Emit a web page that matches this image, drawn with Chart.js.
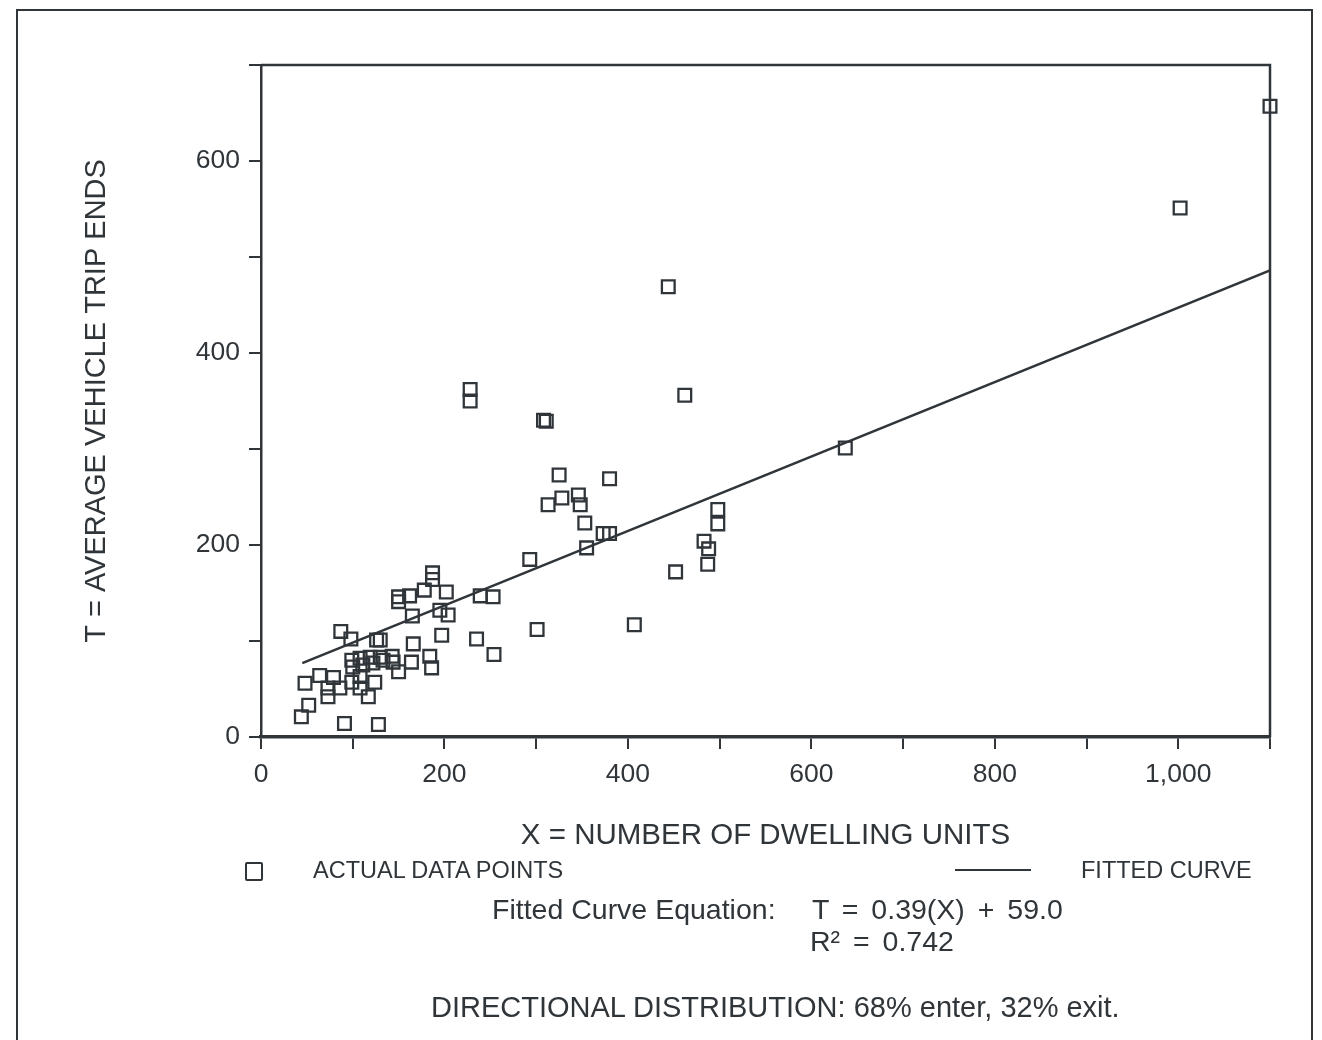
<!DOCTYPE html>
<html>
<head>
<meta charset="utf-8">
<script src="https://cdn.jsdelivr.net/npm/chart.js@4.4.1/dist/chart.umd.min.js"></script>
<style>
  body { margin: 0; background: #fff; font-family: "Liberation Sans", Arial, sans-serif; color: #30353a; }
  #wrap { position: relative; width: 1322px; height: 1040px; overflow: hidden; }
  #frame { position: absolute; left: 16px; top: 9px; width: 1293px; height: 1100px; border: 2px solid #30353a; }
  canvas { position: absolute; left: 0; top: 0; }
  .txt { position: absolute; white-space: pre; line-height: 1; }
</style>
</head>
<body>
<div id="wrap">
  <div id="frame"></div>
  <canvas id="tripChart" width="1322" height="1040"></canvas>
  <div style="position:absolute;left:245px;top:862px;width:14px;height:15px;border:2px solid #30353a;border-radius:2px;"></div>
  <div class="txt" style="left:313px;top:859px;font-size:23.5px;">ACTUAL DATA POINTS</div>
  <div style="position:absolute;left:955px;top:869px;width:76px;height:2px;background:#30353a;"></div>
  <div class="txt" style="left:1081px;top:859px;font-size:23.5px;">FITTED CURVE</div>
  <div class="txt" style="left:492px;top:895px;font-size:28.5px;">Fitted Curve Equation:<span style="position:absolute;left:320px;word-spacing:5px;">T = 0.39(X) + 59.0</span></div>
  <div class="txt" style="left:810px;top:927px;font-size:28.5px;word-spacing:5px;">R² = 0.742</div>
  <div class="txt" style="left:431px;top:993px;font-size:29px;">DIRECTIONAL DISTRIBUTION: 68% enter, 32% exit.</div>
</div>
<script>
// dwelling units (x) and trip ends (y)
var unitsX = [44, 52, 48, 64, 79, 73, 86, 73, 91, 128,
              87, 98, 126, 130, 99, 108, 108, 124, 117, 99,
              108, 119, 130, 143, 100, 111, 122, 133, 144, 150,
              164, 184, 186, 166, 197, 165, 195, 204, 150, 150,
              162, 178, 187, 187, 202, 239, 253, 235, 254, 228,
              228, 301, 293, 308, 311, 313, 325, 328, 346, 348,
              353, 355, 373, 380, 380, 407, 444, 452, 462, 483,
              488, 487, 498, 498, 637, 1002, 1100];
var tripsY = [21, 33, 56, 64, 62, 51, 51, 42, 14, 13,
              110, 102, 101, 101, 57, 63, 51, 57, 42, 80,
              82, 83, 83, 84, 73, 75, 77, 80, 78, 68,
              78, 84, 72, 97, 106, 126, 132, 127, 146, 141,
              147, 153, 171, 164, 151, 147, 146, 102, 86, 362,
              350, 112, 185, 330, 329, 242, 273, 249, 252, 242,
              223, 197, 212, 212, 269, 117, 469, 172, 356, 204,
              196, 180, 237, 222, 301, 551, 657];

// fitted line end points as drawn
var fitX = [45, 1100];
var fitY = [77, 486];

var ink = '#30353a';

var points = unitsX.map(function (x, i) { return { x: x, y: tripsY[i] }; });
var fitLine = fitX.map(function (x, i) { return { x: x, y: fitY[i] }; });

// top and right sides of the plot box
var boxPlugin = {
  id: 'box',
  afterDraw: function (chart) {
    var a = chart.chartArea;
    var c = chart.ctx;
    c.save();
    c.strokeStyle = ink;
    c.lineWidth = 2.5;
    c.beginPath();
    c.moveTo(a.left, a.top);
    c.lineTo(a.right, a.top);
    c.lineTo(a.right, a.bottom);
    c.stroke();
    c.restore();
  }
};

var context = document.getElementById('tripChart').getContext('2d');
var myChart = new Chart(context, {
  type: 'scatter',
  data: {
    datasets: [
      {
        label: 'ACTUAL DATA POINTS',
        data: points,
        pointStyle: 'rect',
        pointRadius: 9,
        pointBorderWidth: 2.3,
        pointBorderColor: ink,
        pointBackgroundColor: 'rgba(255,255,255,0)',
        clip: 12
      },
      {
        label: 'FITTED CURVE',
        data: fitLine,
        showLine: true,
        borderColor: ink,
        borderWidth: 2.5,
        pointRadius: 0
      }
    ]
  },
  plugins: [boxPlugin],
  options: {
    responsive: false,
    animation: false,
    layout: { padding: { left: 0, top: 65, right: 52, bottom: 183 } },
    plugins: { legend: { display: false }, tooltip: { enabled: false } },
    scales: {
      x: {
        type: 'linear',
        min: 0,
        max: 1100,
        afterFit: function (s) { s.height = 120; },
        border: { color: ink, width: 3.5 },
        grid: { drawOnChartArea: false, color: ink, lineWidth: 2, tickLength: 12 },
        ticks: {
          stepSize: 100,
          padding: 10,
          color: ink,
          font: { family: 'Liberation Sans', size: 26.5 },
          maxRotation: 0,
          callback: function (v) { return (v % 200 === 0 && v <= 1000) ? v.toLocaleString('en-US') : ''; }
        },
        title: {
          display: true,
          text: 'X = NUMBER OF DWELLING UNITS',
          color: ink,
          font: { family: 'Liberation Sans', size: 29.5 },
          padding: { top: 0, bottom: 3 }
        }
      },
      y: {
        type: 'linear',
        min: 0,
        max: 700,
        afterFit: function (s) { s.width = 261; },
        border: { color: ink, width: 2.5 },
        grid: { drawOnChartArea: false, color: ink, lineWidth: 2, tickLength: 12 },
        ticks: {
          stepSize: 100,
          padding: 9,
          color: ink,
          font: { family: 'Liberation Sans', size: 26.5 },
          callback: function (v) { return (v % 200 === 0 && v <= 600) ? v : ''; }
        },
        title: {
          display: true,
          text: 'T = AVERAGE VEHICLE TRIP ENDS',
          color: ink,
          font: { family: 'Liberation Sans', size: 29 },
          padding: { top: 80, bottom: 0 }
        }
      }
    }
  }
});
</script>
</body>
</html>
